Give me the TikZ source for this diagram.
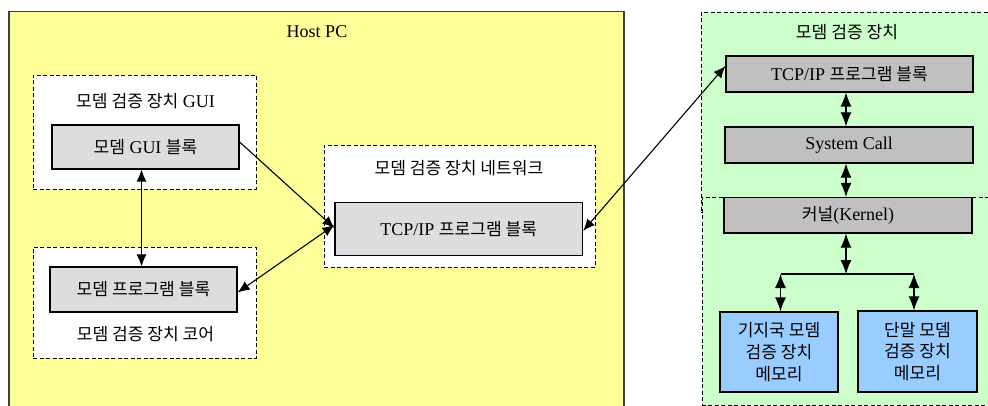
\documentclass[tikz,border=0pt]{standalone}
\usepackage{fontspec}
\setmainfont{Liberation Serif}
\newfontfamily\kr{Noto Sans CJK KR}[Scale=0.95]
\usetikzlibrary{arrows.meta}

\definecolor{hostfill}{HTML}{FFFF99}
\definecolor{devfill}{HTML}{CCFFCC}
\definecolor{blkfill}{HTML}{DDDDDD}
\definecolor{devblk}{HTML}{C0C0C0}
\definecolor{memfill}{HTML}{99CCFF}
\definecolor{frame}{HTML}{404040}

\begin{document}
\begin{tikzpicture}[x=1pt,y=-1pt,
  every node/.style={font=\fontsize{18}{21.7}\selectfont},
  host/.style={draw=frame, line width=1.5pt, fill=hostfill, inner sep=0pt, anchor=north west},
  devzone/.style={draw=black, line width=0.9pt, dash pattern=on 4pt off 2.5pt, fill=devfill, inner sep=0pt, anchor=north west},
  grp/.style={draw=black, line width=0.9pt, dash pattern=on 4pt off 2.5pt, fill=white, inner sep=0pt},
  blk/.style={draw=black, line width=1.2pt, fill=blkfill, inner sep=0pt, align=center},
  dblk/.style={blk, fill=devblk},
  mem/.style={blk, fill=memfill},
  lbl/.style={inner sep=0pt},
  tipL/.tip={Latex[length=12pt,width=10pt]},
  tipR/.tip={Latex[length=14pt,width=11pt]},
  conn/.style={line width=1.1pt, -tipL},
  both/.style={line width=1.1pt, tipL-tipL},
  bothR/.style={line width=1.1pt, tipR-tipR},
]
\useasboundingbox (0,0) rectangle (988,406);

% containers
\node[host, minimum width=615pt, minimum height=420pt] (hostpc) at (8,11) {};
\node[devzone, minimum width=300pt, minimum height=200pt] (dev) at (701,12) {};
\node[devzone, minimum width=300pt, minimum height=207.5pt] (kzone) at (701.5,197) {};

% host side groups
\node[grp, minimum width=223pt, minimum height=114pt] (guiG) at (144.5,132) {};
\node[grp, minimum width=223pt, minimum height=111pt] (coreG) at (144.5,302.5) {};
\node[grp, minimum width=271pt, minimum height=122pt] (netG) at (459.5,206) {};

% labels
\node[lbl] (hostL) at (317,32) {Host PC};
\node[lbl] (guiL) at (145.5,101.5) {{\kr 모뎀 검증 장치} GUI};
\node[lbl] (coreL) at (145.5,334) {\kr 모뎀 검증 장치 코어};
\node[lbl] (netL) at (459,168) {\kr 모뎀 검증 장치 네트워크};
\node[lbl] (devL) at (847,32) {\kr 모뎀 검증 장치};

% host side blocks
\node[blk, minimum width=187pt, minimum height=44pt] (guiB) at (145.5,147) {{\kr 모뎀} GUI {\kr 블록}};
\node[blk, minimum width=187pt, minimum height=45pt] (coreB) at (143.5,289.5) {\kr 모뎀 프로그램 블록};
\node[blk, minimum width=247.5pt, minimum height=53pt] (tcpL) at (458.75,229) {TCP/IP {\kr 프로그램 블록}};

% device side blocks
\node[dblk, minimum width=247pt, minimum height=36pt] (tcpR) at (849.5,74) {TCP/IP {\kr 프로그램 블록}};
\node[dblk, minimum width=248pt, minimum height=36pt] (sysc) at (849,145) {System Call};
\node[dblk, minimum width=248pt, minimum height=35.5pt] (kern) at (848,215.25) {{\kr 커널}(Kernel)};
\node[mem, minimum width=118pt, minimum height=80pt] (memA) at (779,352) {\kr 기지국 모뎀\\\kr 검증 장치\\\kr 메모리};
\node[mem, minimum width=119pt, minimum height=81pt] (memB) at (917.5,351.5) {\kr 단말 모뎀\\\kr 검증 장치\\\kr 메모리};

% host side connectors
\draw[conn] ([yshift=5pt]guiB.east) -- ([yshift=1pt]tcpL.west);
\draw[both] ([yshift=-3pt]coreB.east) -- ([yshift=4pt]tcpL.west);
\draw[both] ([xshift=-4pt]guiB.south) -- ([xshift=-2pt]coreB.north);
\draw[both] ([yshift=-2pt]tcpL.east) -- ([yshift=8pt]tcpR.west);

% device side connectors
\coordinate (j) at (846,274);
\coordinate (jl) at (780.5,274);
\coordinate (jr) at (914,274);
\draw[bothR] (tcpR.south -| j) -- (sysc.north -| j);
\draw[bothR] (sysc.south -| j) -- (kern.north -| j);
\draw[bothR] (kern.south -| j) -- (j);
\draw[line width=1.1pt] (jl) -- (jr);
\draw[bothR] (jl) -- (memA.north -| jl);
\draw[bothR] (jr) -- (memB.north -| jr);
\end{tikzpicture}
\end{document}
